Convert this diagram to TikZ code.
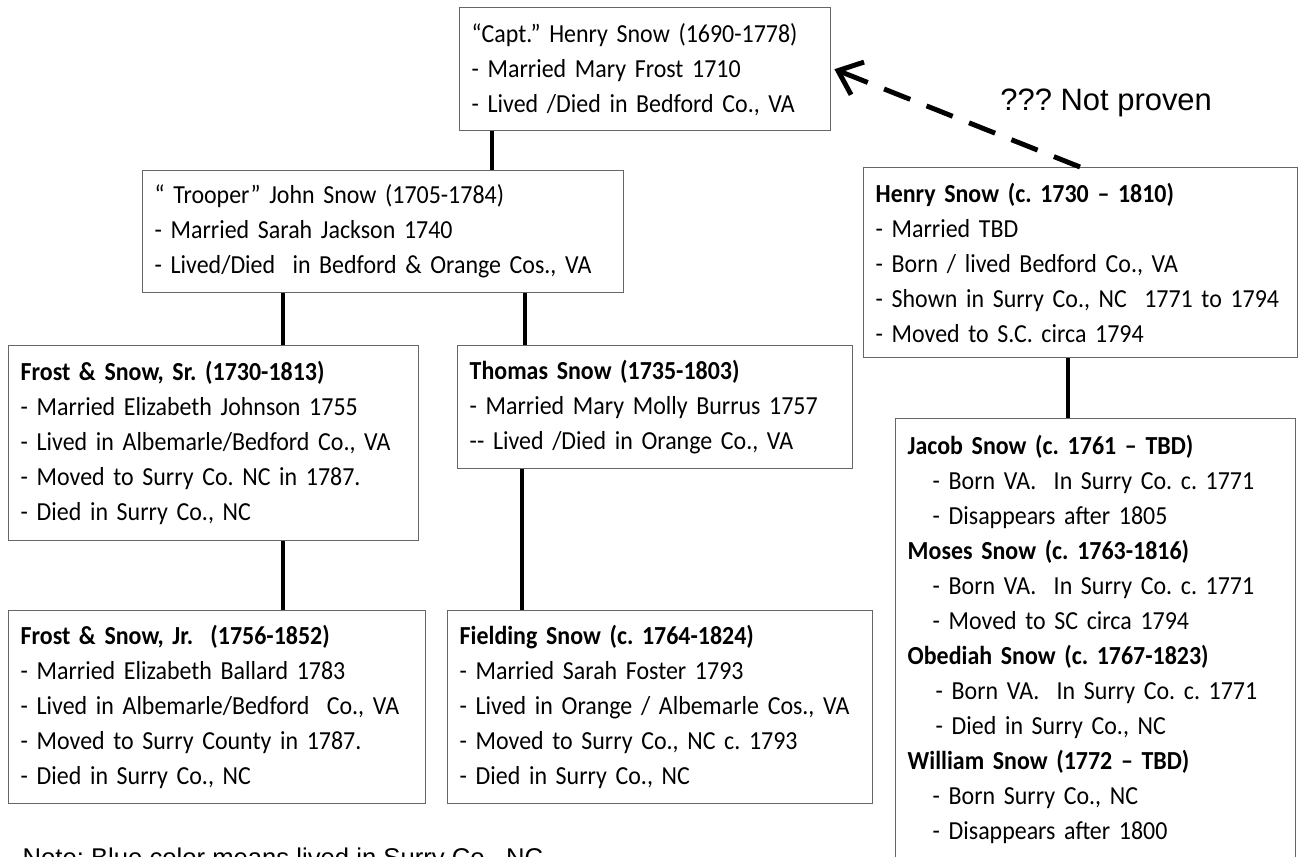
\documentclass[tikz,border=0pt]{standalone}
\usepackage{fontspec}
\setmainfont{Carlito}[FakeStretch=0.92]
\newfontfamily\arialfont{Liberation Sans}
\usetikzlibrary{arrows.meta}
\newcommand\snowfont{\fontsize{7.4}{9.96}\selectfont\spaceskip=0.16em plus 0.04em\relax}

\begin{document}
\frenchspacing
\begin{tikzpicture}[x=0.1mm, y=-0.1mm,
  snowbox/.style={draw=black!60, line width=0.4pt, anchor=north west,
    inner xsep=1.2mm, inner ysep=0pt, align=left, font=\snowfont},
  link/.style={line width=1.2pt},
  unsure/.style={line width=1.4pt, dash pattern=on 8pt off 5pt,
    -{Straight Barb[length=6pt,width=10pt]}},
  remark/.style={font=\arialfont\fontsize{8.8}{10}\selectfont}]
\useasboundingbox (0,0) rectangle (1307,857);
\clip (0,0) rectangle (1307,857);

% first generations
\node[snowbox, text width=34.7mm, minimum height=12.3mm] (capt) at (459,7)
  {“Capt.” Henry Snow (1690-1778)\\- Married Mary Frost 1710\\- Lived /Died in Bedford Co., VA};
\node[snowbox, text width=45.7mm, minimum height=12.2mm] (trooper) at (142,170)
  {“ Trooper” John Snow (1705-1784)\\- Married Sarah Jackson 1740\\- Lived/Died\ \ in Bedford \& Orange Cos., VA};
\node[snowbox, text width=41.0mm, minimum height=19.0mm] (henry) at (863,167)
  {\textbf{Henry Snow (c. 1730 – 1810)}\\- Married TBD\\- Born / lived Bedford Co., VA\\- Shown in Surry Co., NC\ \ 1771 to 1794\\- Moved to S.C. circa 1794};

% children of John
\node[snowbox, text width=38.6mm, minimum height=19.5mm] (frostsr) at (8,345)
  {\textbf{Frost \& Snow, Sr. (1730-1813)}\\- Married Elizabeth Johnson 1755\\- Lived in Albemarle/Bedford Co., VA\\- Moved to Surry Co. NC in 1787.\\- Died in Surry Co., NC};
\node[snowbox, text width=37.1mm, minimum height=12.3mm] (thomas) at (457,345)
  {\textbf{Thomas Snow (1735-1803)}\\- Married Mary Molly Burrus 1757\\-{}- Lived /Died in Orange Co., VA};

% grandchildren
\node[snowbox, text width=39.3mm, minimum height=19.3mm] (frostjr) at (8,610)
  {\textbf{Frost \& Snow, Jr.\ \ (1756-1852)}\\- Married Elizabeth Ballard 1783\\- Lived in Albemarle/Bedford\ \ Co., VA\\- Moved to Surry County in 1787.\\- Died in Surry Co., NC};
\node[snowbox, text width=40.1mm, minimum height=19.3mm] (fielding) at (447,610)
  {\textbf{Fielding Snow (c. 1764-1824)}\\- Married Sarah Foster 1793\\- Lived in Orange / Albemarle Cos., VA\\- Moved to Surry Co., NC c. 1793\\- Died in Surry Co., NC};

% sons of Henry
\node[snowbox, text width=37.6mm, inner ysep=1.6mm] (jacob) at (895,418)
  {\textbf{Jacob Snow (c. 1761 – TBD)}\\
   \hspace*{2.5mm}- Born VA.\ \ In Surry Co. c. 1771\\
   \hspace*{2.5mm}- Disappears after 1805\\
   \textbf{Moses Snow (c. 1763-1816)}\\
   \hspace*{2.5mm}- Born VA.\ \ In Surry Co. c. 1771\\
   \hspace*{2.5mm}- Moved to SC circa 1794\\
   \textbf{Obediah Snow (c. 1767-1823)}\\
   \hspace*{2.8mm}- Born VA.\ \ In Surry Co. c. 1771\\
   \hspace*{2.8mm}- Died in Surry Co., NC\\
   \textbf{William Snow (1772 – TBD)}\\
   \hspace*{2.5mm}- Born Surry Co., NC\\
   \hspace*{2.5mm}- Disappears after 1800\par\vspace*{4mm}};

% lines of descent
\draw[link] ([xshift=3.3mm]capt.south west) -- ([xshift=3.3mm]capt.south west |- trooper.north);
\draw[link] ([xshift=14.1mm]trooper.south west) -- ([xshift=14.1mm]trooper.south west |- frostsr.north);
\draw[link] ([xshift=38.3mm]trooper.south west) -- ([xshift=38.3mm]trooper.south west |- thomas.north);
\draw[link] ([xshift=27.5mm]frostsr.south west) -- ([xshift=27.5mm]frostsr.south west |- frostjr.north);
\draw[link] ([xshift=6.5mm]thomas.south west) -- ([xshift=6.5mm]thomas.south west |- fielding.north);
\draw[link] ([xshift=20.5mm]henry.south west) -- ([xshift=20.5mm]henry.south west |- jacob.north);

% possible link
\draw[unsure] ([xshift=21.7mm]henry.north west) -- ([xshift=0.3mm]capt.east);
\node[remark, anchor=west] (unproven) at (988,103) {??? Not proven};

\node[font=\arialfont\fontsize{7.3}{9}\selectfont, anchor=base west, inner sep=0pt] (note) at (22,866)
  {Note: Blue color means lived in Surry Co., NC};
\end{tikzpicture}
\end{document}
